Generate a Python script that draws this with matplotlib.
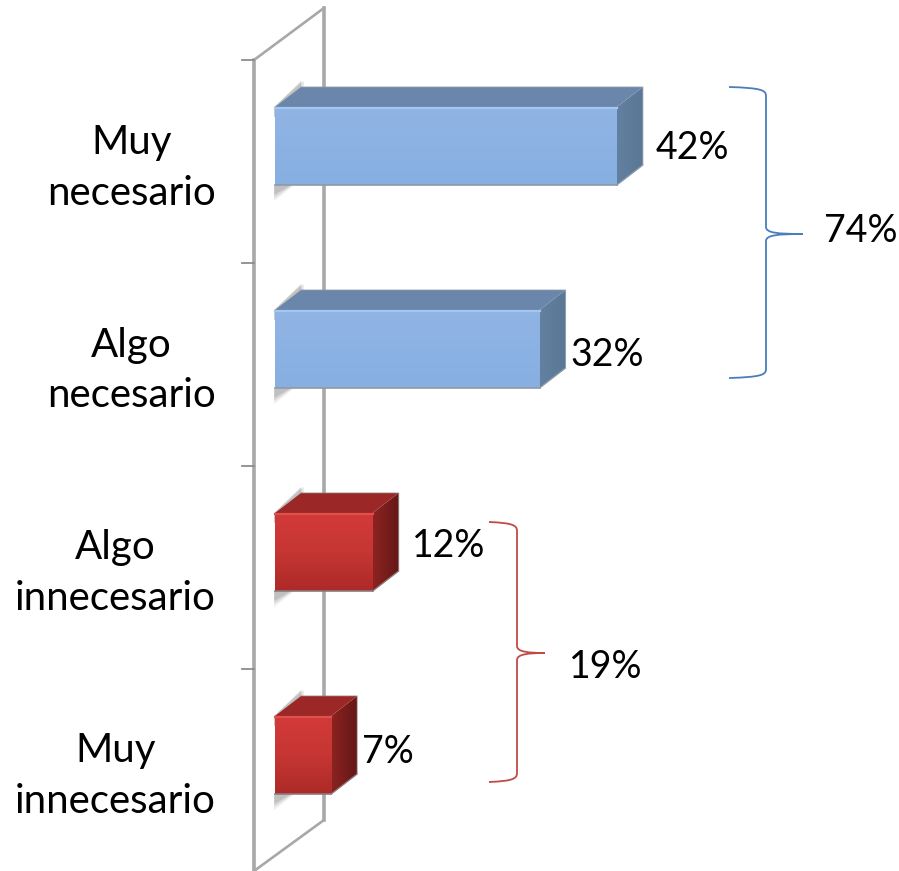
import numpy as np
import matplotlib
matplotlib.use('Agg')
import matplotlib.pyplot as plt
from matplotlib.colors import LinearSegmentedColormap
from matplotlib.patches import Polygon, PathPatch
from matplotlib.path import Path

W, H = 899, 871

categories = ['Muy\nnecesario', 'Algo\nnecesario', 'Algo\ninnecesario', 'Muy\ninnecesario']
values = [42, 32.5, 12, 6.9]
value_labels = ['42%', '32%', '12%', '7%']
bar_group = ['blue', 'blue', 'red', 'red']
brace_labels = ['74%', '19%']

# pixel scale of the value axis and of the category axis
X0, PX_PER_PCT = 275, 8.14
Y0, PX_PER_CAT = 161.5, 203
DEPTH_X, DEPTH_Y = 26, 20
BAR_H, BAR_SHIFT = 78, 15.5

PALETTE = {
    'blue': dict(front=['#90b4e4', '#8cb2e3', '#87afe1'], top='#6a87ab', side=['#62809f', '#5a7796'],
                 rim='#a3c6f2', edge='#8f9aa8'),
    'red': dict(front=['#d23a38', '#c63633', '#ad2a28'], top='#9b2826', side=['#8c2321', '#651817'],
                rim='#e2504d', edge='#8c7a7a'),
}

plt.rcParams['font.family'] = ['Lato', 'DejaVu Sans']
fig = plt.figure(figsize=(W / 100, H / 100), dpi=100)

# decoration layer in pixels: wall, braces, text
deco = fig.add_axes([0, 0, 1, 1])
deco.set_xlim(0, W)
deco.set_ylim(H, 0)
deco.axis('off')

# data layer: x in percent, y in category position
ax = fig.add_axes([0, 0, 1, 1], facecolor='none')
ax.set_xlim(-X0 / PX_PER_PCT, (W - X0) / PX_PER_PCT)
ax.set_ylim((H - Y0) / PX_PER_CAT, -Y0 / PX_PER_CAT)
ax.axis('off')

grey = '#a8a8a8'
deco.plot([254, 254], [60, 871], color=grey, lw=2.6, zorder=1)
deco.plot([324, 324], [8, 820], color=grey, lw=2.6, zorder=1)
deco.plot([254, 324], [60, 8], color=grey, lw=1.9, zorder=1)
deco.plot([254, 324], [871, 820], color=grey, lw=1.9, zorder=1)
for i in range(4):
    yy = Y0 - PX_PER_CAT / 2 + PX_PER_CAT * i
    deco.plot([242, 254], [yy, yy], color='#8c8c8c', lw=1.3, zorder=1)

dx = DEPTH_X / PX_PER_PCT
dy = DEPTH_Y / PX_PER_CAT
h = BAR_H / PX_PER_CAT
shift = BAR_SHIFT / PX_PER_CAT

for i, (v, g) in enumerate(zip(values, bar_group)):
    c = PALETTE[g]
    top_y = i - shift - h / 2
    bot_y = i - shift + h / 2
    # soft shadow on the wall behind the left edge
    for k, a in enumerate([0.14, 0.22, 0.30]):
        off = (2 - k) * 1.5 / PX_PER_PCT
        ax.add_patch(Polygon([(-0.1, top_y), (dx + off, top_y - dy - 6 / PX_PER_CAT),
                              (dx + off, top_y - dy + 18 / PX_PER_CAT), (-0.1, top_y + 10 / PX_PER_CAT)],
                             fc='#8a8a8a', ec='none', alpha=a, zorder=2))
        ax.add_patch(Polygon([(-0.1, bot_y), (2.0 + off, bot_y), (-0.1, bot_y + (16 - k * 3) / PX_PER_CAT)],
                             fc='#8a8a8a', ec='none', alpha=a, zorder=2))
    # front face
    ax.imshow(np.linspace(0, 1, 64).reshape(-1, 1), aspect='auto', zorder=4,
              cmap=LinearSegmentedColormap.from_list('f' + str(i), c['front']),
              extent=(0, v, bot_y, top_y), interpolation='bilinear')
    # side face, clipped to its parallelogram
    side = Polygon([(v, top_y), (v + dx, top_y - dy), (v + dx, bot_y - dy), (v, bot_y)],
                   transform=ax.transData, fc='none', ec='none', zorder=3)
    ax.add_patch(side)
    im = ax.imshow(np.linspace(0, 1, 32).reshape(1, -1), aspect='auto', zorder=3,
                   cmap=LinearSegmentedColormap.from_list('s' + str(i), c['side']),
                   extent=(v, v + dx, bot_y, top_y - dy), interpolation='bilinear')
    im.set_clip_path(side)
    # top face
    ax.add_patch(Polygon([(0, top_y), (dx, top_y - dy), (v + dx, top_y - dy), (v, top_y)],
                         fc=c['top'], ec='none', zorder=3))
    ax.plot([dx, v + dx, v + dx, v], [top_y - dy, top_y - dy, bot_y - dy, bot_y],
            color=c['edge'], lw=0.8, alpha=0.7, zorder=5, solid_joinstyle='round')
    ax.plot([0, v], [top_y + 1 / PX_PER_CAT] * 2, color=c['rim'], lw=1.6, zorder=5)
    ax.plot([0, v], [bot_y, bot_y], color=c['edge'], lw=1.2, zorder=5)
    ax.plot([v, v + dx], [bot_y, bot_y - dy], color=c['edge'], lw=0.8, zorder=5)

ax.set_xlim(-X0 / PX_PER_PCT, (W - X0) / PX_PER_PCT)
ax.set_ylim((H - Y0) / PX_PER_CAT, -Y0 / PX_PER_CAT)


def brace(x_end, x_mid, x_tip, y_top, y_tip, y_bot, color):
    verts = [(x_end, y_top), (x_mid - 5, y_top + 1), (x_mid, y_top + 3), (x_mid, y_top + 9),
             (x_mid, y_tip - 7),
             (x_mid, y_tip - 1), (x_mid + 12, y_tip), (x_tip, y_tip),
             (x_mid + 12, y_tip), (x_mid, y_tip + 1), (x_mid, y_tip + 7),
             (x_mid, y_bot - 9),
             (x_mid, y_bot - 3), (x_mid - 5, y_bot - 1), (x_end, y_bot)]
    codes = [Path.MOVETO, Path.CURVE4, Path.CURVE4, Path.CURVE4, Path.LINETO,
             Path.CURVE4, Path.CURVE4, Path.CURVE4, Path.CURVE4, Path.CURVE4, Path.CURVE4,
             Path.LINETO, Path.CURVE4, Path.CURVE4, Path.CURVE4]
    deco.add_patch(PathPatch(Path(verts, codes), fc='none', ec=color, lw=1.3))


brace(729, 766, 803, 87, 234, 378, '#4a7ebb')
brace(489, 517, 545, 522, 653, 782, '#be4b48')

FS = 27
cat_y = [168, 370.5, 573, 776]
for name, yy in zip(categories, cat_y):
    deco.text(115.5 if 'innec' in name else 131.5, yy, name, ha='center', va='center',
              fontsize=29, linespacing=1.46, color='black')

label_x = [656, 570, 412, 362]
label_y = [148, 355, 546, 752]
for t, xx, yy in zip(value_labels, label_x, label_y):
    deco.text(xx, yy, t, ha='left', va='center', fontsize=FS, color='black', zorder=6)

deco.text(824, 231, brace_labels[0], ha='left', va='center', fontsize=FS, color='black')
deco.text(569, 667, brace_labels[1], ha='left', va='center', fontsize=FS, color='black')

fig.savefig('out.png', dpi=100)
